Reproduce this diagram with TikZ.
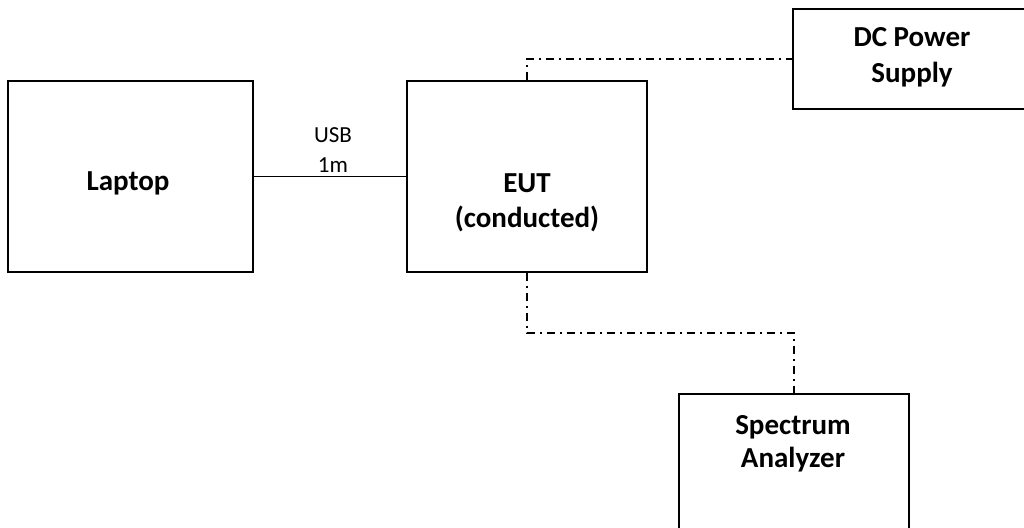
\documentclass[tikz,border=0pt]{standalone}
\usepackage{fontspec}
\setmainfont{Carlito}
\begin{document}
\begin{tikzpicture}[x=1pt,y=-1pt,
  box/.style={draw, rectangle, line width=1.7pt, inner sep=0pt},
  cable/.style={line width=1.5pt},
  ctl/.style={line width=1.7pt, dash pattern=on 8pt off 5pt on 2pt off 5pt},
  boldtxt/.style={font=\fontsize{29}{35}\selectfont\bfseries, anchor=base, inner sep=0pt},
  thintxt/.style={font=\fontsize{23}{28}\selectfont, anchor=base, inner sep=0pt}]
\useasboundingbox (0,0) rectangle (1024,527);
\fill[white] (0,0) rectangle (1024,527);
\clip (0,0) rectangle (1024,527);

% equipment boxes
\node[box, minimum width=245pt, minimum height=191pt] (laptop) at (130.5,176.5) {};
\node[box, minimum width=240pt, minimum height=191pt] (eut) at (527,176.5) {};
\node[box, minimum width=240pt, minimum height=100pt] (dc) at (913,59) {};
\node[box, minimum width=230pt, minimum height=180pt] (sa) at (794,484) {};

% box captions
\node[boldtxt] (laptoptxt) at (128,190) {Laptop};
\node[boldtxt] (euttxt1) at (527,192) {EUT};
\node[boldtxt] (euttxt2) at (527,227) {(conducted)};
\node[boldtxt] (dctxt1) at (912,47) {DC Power};
\node[boldtxt] (dctxt2) at (912,82) {Supply};
\node[boldtxt] (satxt1) at (793,434) {Spectrum};
\node[boldtxt] (satxt2) at (793,467) {Analyzer};

% cables
\draw[cable] (laptop.east) -- (eut.west);
\node[thintxt] (usb1) at (333,142) {USB};
\node[thintxt] (usb2) at (333,172) {1m};
\draw[ctl] (eut.north) |- (dc.west);
\draw[ctl] (eut.south) -- ++(0,60) -| (sa.north);
\end{tikzpicture}
\end{document}
